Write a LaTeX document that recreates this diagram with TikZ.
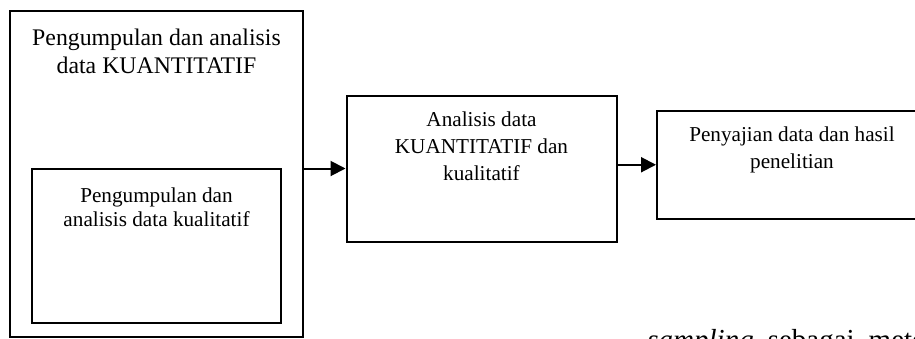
\documentclass[tikz,border=0pt]{standalone}
\usepackage{fontspec}
\setmainfont{Liberation Serif}
\usetikzlibrary{arrows.meta}

\begin{document}
\begin{tikzpicture}[
        x=0.5pt, y=-0.5pt,
        box/.style={
                draw, line width=1pt, rectangle,
                inner sep=0pt
            },
        txt/.style={
                inner sep=0pt, anchor=north,
                align=center,
                font={\fontsize{10.6}{13.5}\selectfont}
            },
        arr/.style={line width=1pt, -{Triangle[length=7.5pt, width=7.5pt]}}
    ]

    \useasboundingbox (0, 0) rectangle (915, 338);

    % boxes
    \node[box, line width=0.8pt, minimum width=146.5pt, minimum height=163pt] (kuan) at (156.5, 174) {};
    \node[box, minimum width=124.5pt, minimum height=77pt] (kual) at (156.5, 246) {};
    \node[box, minimum width=135pt, minimum height=73pt] (anal) at (481.5, 168.5) {};
    \node[box, minimum width=135pt, minimum height=53.75pt] (hasil) at (792, 164.75) {};

    % texts
    \node[txt, font={\fontsize{11.9}{14}\selectfont}] (kuantxt) at (156.5, 28.5)
    {Pengumpulan dan analisis\\data KUANTITATIF};
    \node[txt, font={\fontsize{10.6}{12}\selectfont}] (kualtxt) at (156.5, 187.5)
    {Pengumpulan dan\\analisis data kualitatif};
    \node[txt] (analtxt) at (481.5, 111)
    {Analisis data\\KUANTITATIF dan\\kualitatif};
    \node[txt] (hasiltxt) at (792, 126)
    {Penyajian data dan hasil\\penelitian};

    \node[anchor=base west, inner sep=0pt, font={\fontsize{14.5}{17}\selectfont}] (body) at (647, 349)
    {\textit{sampling}\hspace{7pt}sebagai\hspace{7pt}metode};

    % arrows
    \draw[arr] (kuan.east |- anal.west) -- (anal.west);
    \draw[arr] (anal.east |- hasil.west) -- (hasil.west);

\end{tikzpicture}
\end{document}
